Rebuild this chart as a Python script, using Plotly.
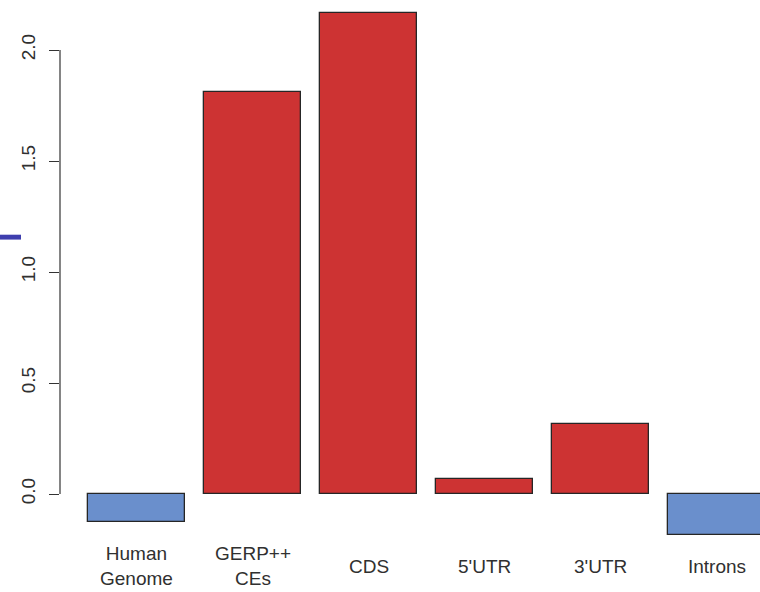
import plotly.graph_objects as go

categories = ["Human<br>Genome", "GERP++<br>CEs", "CDS", "5'UTR", "3'UTR", "Introns"]
values = [-0.125, 1.81, 2.167, 0.068, 0.315, -0.185]
bar_colors = ["#6A8FCC", "#CD3333", "#CD3333", "#CD3333", "#CD3333", "#6A8FCC"]
ytick_vals = [0.0, 0.5, 1.0, 1.5, 2.0]
ytick_text = ["0.0", "0.5", "1.0", "1.5", "2.0"]

xpos = list(range(len(categories)))
FONT = "Liberation Sans, Arial, Helvetica, sans-serif"

fig = go.Figure()
fig.add_trace(go.Bar(
    x=xpos, y=values, width=1 / 1.2,
    marker=dict(color=bar_colors, line=dict(color="#262626", width=1.3)),
    showlegend=False, hoverinfo="skip",
))

for xi, lab in zip(xpos, categories):
    fig.add_annotation(x=xi, y=0, xref="x", yref="paper", text=lab, showarrow=False,
                       yanchor="middle", yshift=-26, align="center",
                       font=dict(family=FONT, size=19, color="#303030"))

# R-style axis line spanning only the tick range
fig.add_shape(type="line", xref="paper", yref="y", x0=0, x1=0, y0=0, y1=2.0,
              line=dict(color="#333333", width=1.2))
# small blue mark at the left edge
fig.add_shape(type="rect", xref="paper", yref="y", x0=-0.0857, x1=-0.0557, y0=1.146, y1=1.168,
              line=dict(width=0), fillcolor="#3E3EAE")

fig.update_layout(
    width=760, height=592,
    margin=dict(l=60, r=0, t=5, b=52),
    paper_bgcolor="white", plot_bgcolor="white",
    bargap=0,
    xaxis=dict(range=[-0.6595, 5.375], showticklabels=False, showgrid=False,
               zeroline=False, showline=False, ticks=""),
    yaxis=dict(range=[-0.2072, 2.2027], tickvals=ytick_vals, ticktext=ytick_text,
               tickangle=-90, ticks="outside", ticklen=10, tickwidth=1.2, tickcolor="#333333",
               showgrid=False, zeroline=False, showline=False, ticklabelstandoff=6,
               tickfont=dict(family=FONT, size=19, color="#303030")),
)

fig.write_html("out.html", config={"displayModeBar": False},
               post_script="document.body.style.margin='0';")
